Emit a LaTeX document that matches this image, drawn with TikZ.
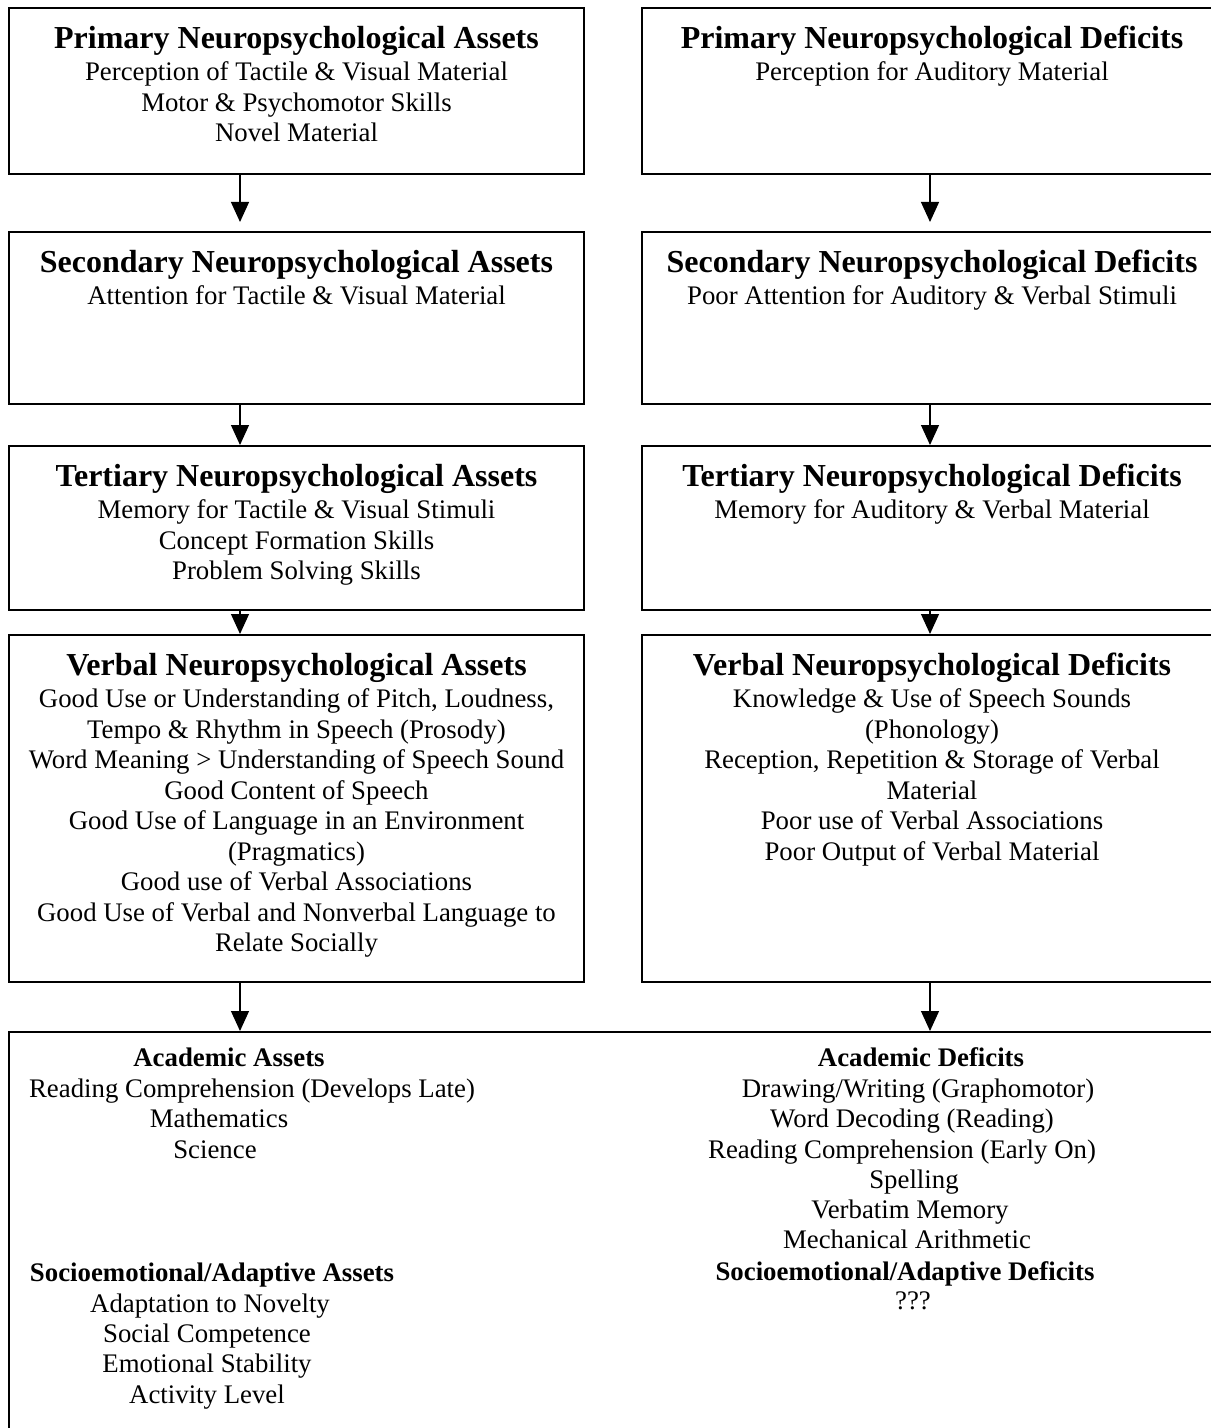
\documentclass[tikz,border=0pt]{standalone}
\usepackage{fontspec}
\setmainfont{Liberation Serif}
\usetikzlibrary{arrows.meta,fit,positioning}

\newcommand{\boxhead}[1]{{\fontsize{16}{17}\selectfont\bfseries #1}\\[0.75pt]}

\begin{document}
\begin{tikzpicture}[x=0.5pt,y=-0.5pt]
        \tikzset{box/.style={draw,line width=1pt,inner sep=0pt},
            boxtext/.style={anchor=north,align=center,inner sep=0pt,yshift=-9.5pt,
                font=\fontsize{13.4}{15.25}\selectfont},
            listline/.style={anchor=base,inner sep=0pt,font=\fontsize{13.4}{15.25}\selectfont},
            flow/.style={-{Triangle[length=10pt,width=9pt]},line width=0.6pt}}
        \useasboundingbox (0,0) rectangle (1210,1428);
        % boxes
        \node[box,fit={(9,8) (584,174)}] (pa) {};
        \node[box,fit={(642,8) (1222,174)}] (pd) {};
        \node[box,fit={(9,232) (584,404)}] (sa) {};
        \node[box,fit={(642,232) (1222,404)}] (sd) {};
        \node[box,fit={(9,446) (584,610)}] (ta) {};
        \node[box,fit={(642,446) (1222,610)}] (td) {};
        \node[box,fit={(9,635) (584,982)}] (va) {};
        \node[box,fit={(642,635) (1222,982)}] (vd) {};
        \node[box,fit={(9,1032) (1240,1450)}] (ac) {};
        % box texts
        \node[boxtext] (pat) at (pa.north) {\boxhead{Primary Neuropsychological Assets}Perception of Tactile \& Visual Material\\Motor \& Psychomotor Skills\\Novel Material};
        \node[boxtext] (pdt) at (pd.north) {\boxhead{Primary Neuropsychological Deficits}Perception for Auditory Material};
        \node[boxtext] (sat) at (sa.north) {\boxhead{Secondary Neuropsychological Assets}Attention for Tactile \& Visual Material};
        \node[boxtext] (sdt) at (sd.north) {\boxhead{Secondary Neuropsychological Deficits}Poor Attention for Auditory \& Verbal Stimuli};
        \node[boxtext] (tat) at (ta.north) {\boxhead{Tertiary Neuropsychological Assets}Memory for Tactile \& Visual Stimuli\\Concept Formation Skills\\Problem Solving Skills};
        \node[boxtext] (tdt) at (td.north) {\boxhead{Tertiary Neuropsychological Deficits}Memory for Auditory \& Verbal Material};
        \node[boxtext] (vat) at (va.north) {\boxhead{Verbal Neuropsychological Assets}Good Use or Understanding of Pitch, Loudness,\\Tempo \& Rhythm in Speech (Prosody)\\Word Meaning > Understanding of Speech Sound\\Good Content of Speech\\Good Use of Language in an Environment\\(Pragmatics)\\Good use of Verbal Associations\\Good Use of Verbal and Nonverbal Language to\\Relate Socially};
        \node[boxtext] (vdt) at (vd.north) {\boxhead{Verbal Neuropsychological Deficits}Knowledge \& Use of Speech Sounds\\(Phonology)\\Reception, Repetition \& Storage of Verbal\\Material\\Poor use of Verbal Associations\\Poor Output of Verbal Material};
        % academic and socioemotional lists
        \foreach \x/\y/\t [count=\i] in {229/1066/{\textbf{Academic Assets}},
                252/1097/{Reading Comprehension (Develops Late)},
                219/1127/Mathematics, 215/1158/Science,
                212/1281/{\textbf{Socioemotional/Adaptive Assets}},
                210/1312/Adaptation to Novelty, 207/1342/Social Competence,
                207/1372/Emotional Stability, 207/1403/Activity Level}
            \node[listline] (la\i) at (\x,\y) {\t};
        \foreach \x/\y/\t [count=\i] in {921/1066/{\textbf{Academic Deficits}},
                918/1097/{Drawing/Writing (Graphomotor)},
                912/1127/{Word Decoding (Reading)},
                902/1158/{Reading Comprehension (Early On)},
                914/1188/Spelling, 910/1218/Verbatim Memory,
                907/1248/Mechanical Arithmetic,
                905/1280/{\textbf{Socioemotional/Adaptive Deficits}},
                913/1309/???}
            \node[listline] (ld\i) at (\x,\y) {\t};
        % arrows
        \coordinate (lx) at (240,0);
        \coordinate (rx) at (930,0);
        \draw[flow,shorten >=4.5pt] (pa.south -| lx) -- (sa.north -| lx);
        \draw[flow,shorten >=4.5pt] (pd.south -| rx) -- (sd.north -| rx);
        \draw[flow] (sa.south -| lx) -- (ta.north -| lx);
        \draw[flow] (sd.south -| rx) -- (td.north -| rx);
        \draw[flow] (ta.south -| lx) -- (va.north -| lx);
        \draw[flow] (td.south -| rx) -- (vd.north -| rx);
        \draw[flow] (va.south -| lx) -- (ac.north -| lx);
        \draw[flow] (vd.south -| rx) -- (ac.north -| rx);
\end{tikzpicture}
\end{document}
